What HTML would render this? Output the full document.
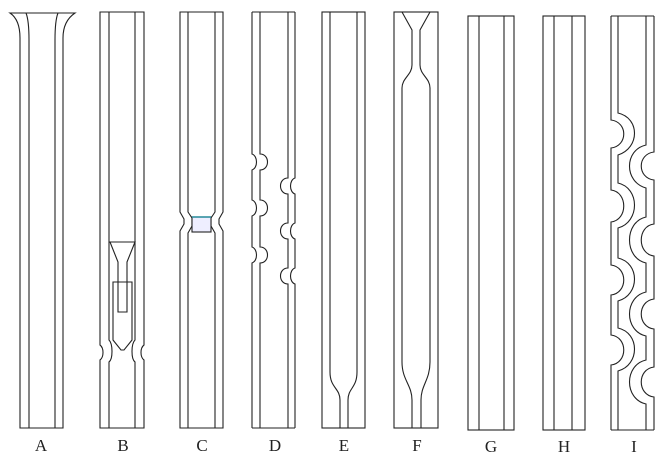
<!DOCTYPE html>
<html><head><meta charset="utf-8"><style>
html,body{margin:0;padding:0;background:#fff;width:670px;height:465px;overflow:hidden}
svg{display:block}
text{font-family:"Liberation Serif",serif;font-size:17px;fill:#222;text-anchor:middle}
</style></head><body>
<svg width="670" height="465" viewBox="0 0 670 465" fill="none" stroke="#222" stroke-width="1.1">
<!-- A -->
<path d="M20,428 L20,38 C20,24 16,17 10,13 L75,13 C69,17 63,24 63,38 L63,428 Z"/>
<path d="M29,428 L29,40 C29,26 28,18 26,13"/>
<path d="M55,428 L55,40 C55,26 56,18 58,13"/>
<!-- B -->
<path d="M100,12 L144,12 L144,345 C140,348 140,357 144,360 L144,428 L100,428 L100,360 C104,357 104,348 100,345 Z"/>
<path d="M109,12 L109,340 C113,344 113,359 109,362 L109,428"/>
<path d="M135,12 L135,340 C131,344 131,359 135,362 L135,428"/>
<path d="M110,242 L135,242 L127,262 L127,312 L118,312 L118,262 Z"/>
<path d="M113,282 L132,282 L132,340 L124,350 L121,350 L113,340 Z"/>
<!-- C -->
<path d="M180,12 L223,12 L223,212 L219,219 L219,224 L223,231 L223,428 L180,428 L180,231 L184,224 L184,219 L180,212 Z"/>
<path d="M188,12 L188,212 L192,218 L192,226 L188,233 L188,428"/>
<path d="M215,12 L215,212 L211,218 L211,226 L215,233 L215,428"/>
<rect x="192" y="217" width="19" height="15" fill="#eef" stroke="#222"/>
<line x1="192" y1="217" x2="211" y2="217" stroke="#2a8fa0" stroke-width="1.5"/>
<!-- D -->
<line x1="252" y1="12" x2="295" y2="12"/>
<line x1="252" y1="428" x2="295" y2="428"/>
<path d="M252,12 L252,154 C258,156 258,168 252,170 L252,200 C258,202 258,214 252,216 L252,247 C258,249 258,261 252,263 L252,428"/>
<path d="M260,12 L260,154 C270,154 270,170 260,170 L260,200 C270,200 270,216 260,216 L260,247 C270,247 270,263 260,263 L260,428"/>
<path d="M288,12 L288,178 C278,178 278,194 288,194 L288,223 C278,223 278,239 288,239 L288,268 C278,268 278,284 288,284 L288,428"/>
<path d="M295,12 L295,178 C289,180 289,192 295,194 L295,223 C289,225 289,237 295,239 L295,268 C289,270 289,282 295,284 L295,428"/>
<!-- E -->
<rect x="322" y="12" width="43" height="416"/>
<path d="M330,12 L330,372 C330,388 340,388 340,400 L340,428"/>
<path d="M357,12 L357,372 C357,388 348,388 348,400 L348,428"/>
<!-- F -->
<rect x="394" y="12" width="44" height="416"/>
<path d="M402,12 L412,30 L412,65 C412,75 402,78 402,88 L402,362 C402,380 412,385 412,400 L412,428"/>
<path d="M430,12 L420,30 L420,65 C420,75 430,78 430,88 L430,362 C430,380 421,385 421,400 L421,428"/>
<!-- G -->
<rect x="468" y="16" width="46" height="414"/>
<line x1="479" y1="16" x2="479" y2="430"/>
<line x1="504" y1="16" x2="504" y2="430"/>
<!-- H -->
<rect x="543" y="16" width="42" height="414"/>
<line x1="554" y1="16" x2="554" y2="430"/>
<line x1="572" y1="16" x2="572" y2="430"/>
<!-- I -->
<line x1="611" y1="16" x2="654" y2="16"/>
<line x1="611" y1="430" x2="654" y2="430"/>
<path d="M611,16 L611,120 C628,122 628,146 611,148 L611,190 C628,192 628,220 611,222 L611,265 C628,267 628,293 611,295 L611,335 C628,337 628,363 611,365 L611,430"/>
<path d="M618,16 L618,113 C640,118 640,148 618,155 L618,183 C640,188 640,222 618,228 L618,258 C640,263 640,295 618,301 L618,328 C640,333 640,365 618,371 L618,430"/>
<path d="M654,16 L654,152 C637,154 637,178 654,180 L654,224 C637,226 637,254 654,256 L654,299 C637,301 637,327 654,329 L654,367 C637,369 637,395 654,397 L654,430"/>
<path d="M646,16 L646,145 C624,150 624,182 646,188 L646,217 C624,222 624,258 646,263 L646,292 C624,297 624,331 646,336 L646,360 C624,365 624,399 646,404 L646,430"/>
<g stroke="none">
<text x="41" y="451">A</text>
<text x="123" y="451">B</text>
<text x="202" y="451">C</text>
<text x="275" y="451">D</text>
<text x="344" y="451">E</text>
<text x="417" y="451">F</text>
<text x="491" y="452">G</text>
<text x="564" y="452">H</text>
<text x="634" y="452">I</text>
</g>
</svg>
</body></html>
